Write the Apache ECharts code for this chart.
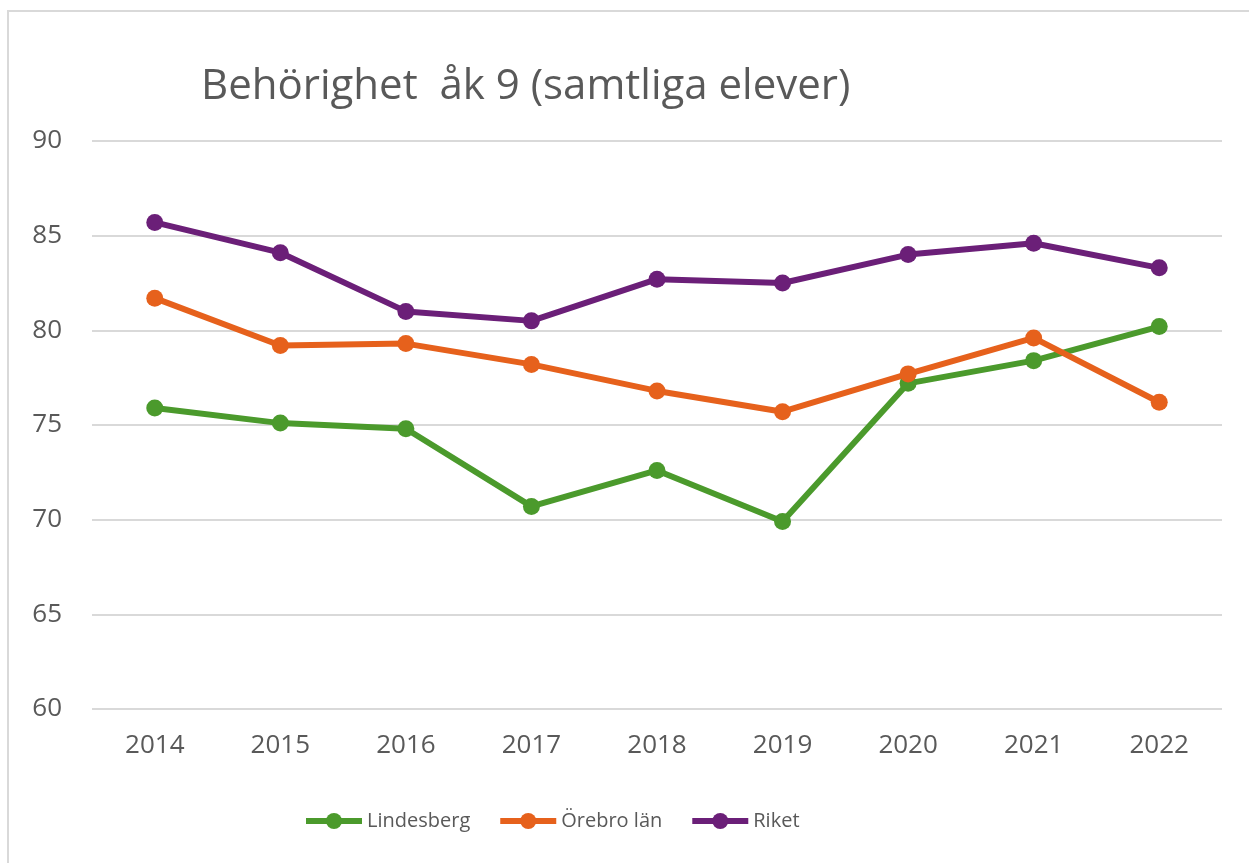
<!DOCTYPE html>
<html>
<head>
<meta charset="utf-8">
<script src="https://cdn.jsdelivr.net/npm/echarts@6/dist/echarts.min.js"></script>
<style>
  html, body { margin: 0; padding: 0; background: #fff; }
  #chart { width: 1249px; height: 863px; }
</style>
</head>
<body>
<div id="chart"></div>
<script>
var years = ['2014', '2015', '2016', '2017', '2018', '2019', '2020', '2021', '2022'];
var lindesberg = [75.9, 75.1, 74.8, 70.7, 72.6, 69.9, 77.2, 78.4, 80.2];
var orebroLan = [81.7, 79.2, 79.3, 78.2, 76.8, 75.7, 77.7, 79.6, 76.2];
var riket = [85.7, 84.1, 81.0, 80.5, 82.7, 82.5, 84.0, 84.6, 83.3];

var font = '"Open Sans", sans-serif';

function lineSeries(name, data, color) {
  return {
    name: name,
    type: 'line',
    data: data,
    symbol: 'circle',
    symbolSize: 17,
    lineStyle: { width: 6, color: color },
    itemStyle: { color: color },
    z: 3
  };
}

var myChart = echarts.init(document.getElementById('chart'));
var option = {
  backgroundColor: '#fff',
  animation: false,
  graphic: [{
    type: 'rect',
    shape: { x: 8, y: 11, width: 1300, height: 900 },
    style: { fill: 'none', stroke: '#d9d9d9', lineWidth: 2 },
    silent: true
  }],
  title: {
    text: 'Behörighet  åk 9 (samtliga elever)',
    left: 196,
    top: 61,
    textStyle: { fontFamily: font, fontSize: 42, fontWeight: 'normal', color: '#595959' }
  },
  legend: {
    bottom: 27,
    left: 298,
    itemWidth: 56,
    itemHeight: 20,
    itemGap: 27,
    lineStyle: { width: 6 },
    textStyle: { fontFamily: font, fontSize: 20, color: '#595959' },
    data: ['Lindesberg', 'Örebro län', 'Riket']
  },
  grid: { left: 92, right: 27, top: 141, bottom: 154 },
  xAxis: {
    type: 'category',
    data: years,
    boundaryGap: true,
    axisLine: { show: false },
    axisTick: { show: false },
    axisLabel: { fontFamily: font, fontSize: 26, color: '#595959', margin: 24 }
  },
  yAxis: {
    type: 'value',
    min: 60,
    max: 90,
    interval: 5,
    axisLine: { show: false },
    axisTick: { show: false },
    splitLine: { lineStyle: { color: '#d9d9d9', width: 2 } },
    axisLabel: { fontFamily: font, fontSize: 26, color: '#595959', margin: 30 }
  },
  series: [
    lineSeries('Lindesberg', lindesberg, '#4b9a2c'),
    lineSeries('Örebro län', orebroLan, '#e6611c'),
    lineSeries('Riket', riket, '#6b1f78')
  ]
};
myChart.setOption(option);
</script>
</body>
</html>
